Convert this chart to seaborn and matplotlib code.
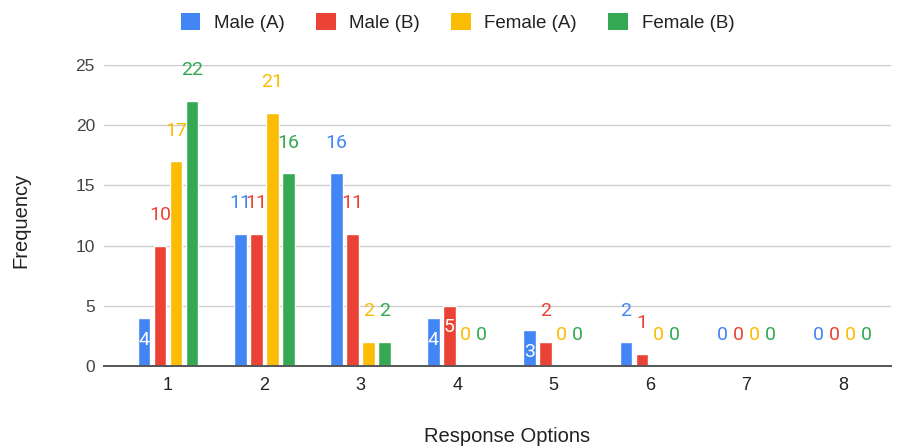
import pandas as pd
import seaborn as sns
import matplotlib.pyplot as plt
from matplotlib.patches import Patch

# Response options on the x axis
categories = ["1", "2", "3", "4", "5", "6", "7", "8"]

# Frequency per group
male_a = [4, 11, 16, 4, 3, 2, 0, 0]
male_b = [10, 11, 11, 5, 2, 1, 0, 0]
female_a = [17, 21, 2, 0, 0, 0, 0, 0]
female_b = [22, 16, 2, 0, 0, 0, 0, 0]

series_names = ["Male (A)", "Male (B)", "Female (A)", "Female (B)"]
colors = ["#4285F4", "#EA4335", "#FBBC04", "#34A853"]

# labels the original draws inside the bar in white: (series, category)
inside_labels = {(0, 0), (0, 3), (1, 3), (0, 4)}


def main():
    series_values = [male_a, male_b, female_a, female_b]
    rows = []
    for name, vals in zip(series_names, series_values):
        for cat, v in zip(categories, vals):
            rows.append({"Response": cat, "Group": name, "Frequency": v})
    df = pd.DataFrame(rows)

    sns.set_style("white")
    plt.rcParams["font.family"] = ["Liberation Sans", "DejaVu Sans"]

    W, H = 901, 447
    fig = plt.figure(figsize=(W / 100, H / 100), dpi=100)
    ax = fig.add_axes([104 / W, 1 - 366 / H, (891 - 104) / W, (366 - 65) / H])

    sns.barplot(data=df, x="Response", y="Frequency", hue="Group",
                order=categories, hue_order=series_names, palette=colors,
                saturation=1, width=0.664, gap=0.19, legend=False, ax=ax)

    ax.set_xlim(-0.664, 7.5)
    ax.set_ylim(0, 25)
    ax.set_yticks(range(0, 26, 5))
    ax.yaxis.grid(True, color="#cccccc", linewidth=1)
    ax.xaxis.grid(False)
    ax.set_axisbelow(True)
    for side in ["left", "right", "top"]:
        ax.spines[side].set_visible(False)
    ax.spines["bottom"].set_color("#555555")
    ax.spines["bottom"].set_linewidth(1.4)
    ax.tick_params(axis="y", length=0, pad=6.5, labelsize=12.5, labelcolor="#444444")
    ax.tick_params(axis="x", length=0, pad=8, labelsize=13, labelcolor="#222222")
    ax.set_xlabel("")
    ax.set_ylabel("")

    # value labels
    for i, container in enumerate(ax.containers):
        for j, bar in enumerate(container):
            v = series_values[i][j]
            x = bar.get_x() + bar.get_width() / 2
            if (i, j) in inside_labels:
                y, c = v - 1.8, "white"
            else:
                y, c = v + 2.55, colors[i]
            ax.text(x, y, str(v), ha="center", va="center", color=c,
                    fontsize=14, family=["Roboto", "DejaVu Sans"], clip_on=False)

    fig.text(507 / W, 1 - 437 / H, "Response Options", ha="center", va="center",
             fontsize=14.5, color="#222222")
    fig.text(21 / W, 1 - 220 / H, "Frequency", ha="center", va="center",
             rotation=90, fontsize=14.5, color="#222222")

    handles = [Patch(facecolor=c, edgecolor="none") for c in colors]
    fig.legend(handles, series_names, loc="center", bbox_to_anchor=(457.5 / W, 1 - 22.5 / H),
               ncol=4, frameon=False, fontsize=13.5, handlelength=1.05, handleheight=1.05,
               handletextpad=0.72, columnspacing=1.67, labelcolor="#222222")

    fig.savefig("out.png", dpi=100)


if __name__ == "__main__":
    main()
